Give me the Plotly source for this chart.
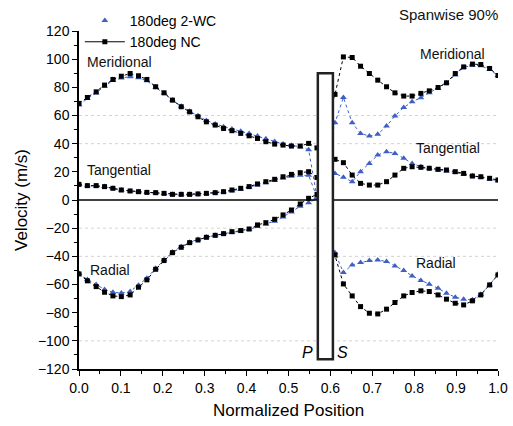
import plotly.graph_objects as go

# Pressure side (left of blade) normalized positions
x_ps = [0.0, 0.020, 0.041, 0.061, 0.081, 0.101, 0.122, 0.142, 0.162, 0.183,
        0.203, 0.223, 0.244, 0.264, 0.284, 0.304, 0.325, 0.345, 0.365, 0.386,
        0.406, 0.426, 0.446, 0.467, 0.487, 0.507, 0.528, 0.548, 0.568]
# Suction side (right of blade) normalized positions
x_ss = [0.611, 0.631, 0.652, 0.672, 0.693, 0.713, 0.734, 0.754, 0.775, 0.795,
        0.816, 0.836, 0.857, 0.877, 0.898, 0.918, 0.939, 0.959, 0.980, 1.0]

# 180deg NC
nc_mer_ps = [68.6, 72.8, 76.8, 81.6, 85.6, 87.9, 89.8, 88.2, 85.6, 80.4,
             76.1, 70.9, 66.2, 62.6, 59.1, 55.5, 53.2, 50.8, 49.2, 47.3,
             45.6, 43.7, 41.4, 39.7, 39.0, 38.3, 38.3, 40.2, 37.0]
nc_mer_ss = [75.0, 101.6, 101.2, 95.0, 89.8, 85.1, 80.4, 76.1, 73.8, 73.8,
             75.7, 77.5, 79.9, 83.2, 89.8, 94.5, 96.5, 96.2, 93.4, 88.4]
nc_tan_ps = [11.1, 10.2, 10.2, 9.5, 8.3, 7.1, 6.4, 5.9, 5.4, 5.2,
             4.7, 4.0, 4.0, 4.0, 4.3, 4.7, 5.2, 5.9, 7.1, 8.3,
             9.5, 11.4, 13.0, 14.7, 16.5, 18.2, 19.4, 20.1, 16.0]
nc_tan_ss = [28.9, 26.5, 17.7, 11.8, 10.6, 10.6, 13.0, 17.7, 22.5, 23.6,
             23.2, 22.5, 21.8, 21.3, 20.1, 18.9, 17.0, 16.5, 15.4, 14.2]
nc_rad_ps = [-52.5, -57.4, -61.5, -65.5, -68.1, -68.6, -67.4, -61.9, -56.7, -49.2,
             -43.0, -37.4, -33.6, -30.3, -28.4, -26.5, -25.1, -23.9, -22.5, -21.7,
             -20.6, -17.7, -16.1, -13.7, -10.6, -7.1, -2.8, 1.2, 4.0]
nc_rad_ss = [-39.0, -59.6, -68.1, -75.7, -80.4, -80.9, -77.5, -72.8, -68.1, -65.7,
             -64.5, -65.0, -67.4, -70.4, -73.3, -74.5, -71.6, -67.4, -60.3, -53.2]

# 180deg 2-WC
wc_mer_ps = [67.5, 72.0, 76.0, 80.8, 84.8, 86.6, 87.6, 86.8, 84.6, 80.0,
             76.0, 71.0, 66.5, 63.0, 59.8, 56.5, 54.0, 52.0, 50.5, 48.8,
             47.2, 45.4, 43.5, 41.6, 39.8, 38.8, 37.8, 35.7, 2.0]
wc_mer_ss = [54.8, 72.8, 54.8, 47.3, 45.4, 46.6, 52.5, 59.6, 65.7, 69.7,
             72.6, 76.1, 79.2, 83.2, 88.7, 94.1, 95.7, 95.3, 92.7, 88.4]
wc_tan_ps = [11.1, 10.2, 9.9, 9.5, 8.3, 7.1, 6.4, 5.9, 5.4, 5.2,
             4.7, 4.0, 4.0, 4.0, 4.3, 4.7, 5.2, 5.9, 6.6, 7.6,
             9.0, 10.6, 12.3, 14.0, 15.6, 16.8, 17.5, 17.5, 2.0]
wc_tan_ss = [18.9, 16.1, 13.0, 20.1, 26.0, 31.9, 34.3, 33.1, 29.6, 26.0,
             23.6, 22.5, 21.3, 20.6, 19.6, 18.2, 17.2, 16.1, 14.9, 13.7]
wc_rad_ps = [-52.0, -56.5, -60.0, -63.5, -65.5, -66.0, -65.0, -60.5, -55.5, -48.5,
             -42.5, -37.0, -33.0, -30.0, -28.0, -26.3, -25.0, -24.0, -23.0, -22.0,
             -21.0, -18.8, -17.2, -15.0, -12.0, -8.5, -4.5, -1.9, 1.0]
wc_rad_ss = [-37.4, -51.5, -46.1, -44.4, -43.0, -42.6, -43.7, -46.8, -50.1, -53.9,
             -57.2, -59.8, -62.7, -66.2, -69.0, -70.4, -70.9, -66.9, -60.3, -52.5]

x_ticks = [0.0, 0.1, 0.2, 0.3, 0.4, 0.5, 0.6, 0.7, 0.8, 0.9, 1.0]
y_ticks = [-120, -100, -80, -60, -40, -20, 0, 20, 40, 60, 80, 100, 120]
grid_levels = [60, 40, -20, -40, -100]

BLUE = "#3f5fc4"
FONT = "Liberation Sans, Arial, sans-serif"

fig = go.Figure()

x_all = x_ps + x_ss
for ps, ss in [(wc_mer_ps, wc_mer_ss), (wc_tan_ps, wc_tan_ss), (wc_rad_ps, wc_rad_ss)]:
    fig.add_trace(go.Scatter(x=x_all, y=ps + ss, mode="lines+markers",
                             line=dict(color=BLUE, width=1, dash="dot"),
                             marker=dict(symbol="triangle-up", size=6, color=BLUE),
                             showlegend=False))
for ps, ss in [(nc_mer_ps, nc_mer_ss), (nc_tan_ps, nc_tan_ss), (nc_rad_ps, nc_rad_ss)]:
    fig.add_trace(go.Scatter(x=x_all, y=ps + ss, mode="lines+markers",
                             line=dict(color="black", width=1, dash="dot"),
                             marker=dict(symbol="square", size=5, color="black"),
                             showlegend=False))

# legend entries
fig.add_trace(go.Scatter(x=[None], y=[None], mode="markers", name="180deg 2-WC",
                         marker=dict(symbol="triangle-up", size=6, color=BLUE)))
fig.add_trace(go.Scatter(x=[None], y=[None], mode="lines+markers", name="180deg NC",
                         line=dict(color="black", width=1),
                         marker=dict(symbol="square", size=5, color="black")))

# dotted grid at selected levels
for g in grid_levels:
    fig.add_shape(type="line", x0=0, x1=1, y0=g, y1=g, xref="x", yref="y",
                  line=dict(color="#d2d2d2", width=1, dash="dot"), layer="below")
# zero line
fig.add_shape(type="line", x0=0, x1=1, y0=0, y1=0, xref="x", yref="y",
              line=dict(color="black", width=1.5), layer="above")
# blade rectangle
fig.add_shape(type="rect", x0=0.570, x1=0.606, y0=-113, y1=90, xref="x", yref="y",
              line=dict(color="#222222", width=2.5), fillcolor="white", layer="above")

ann = dict(showarrow=False, font=dict(family=FONT, size=14, color="#111111"),
           xref="x", yref="y")
fig.add_annotation(x=0.014, y=98, text="Meridional", xanchor="left", **ann)
fig.add_annotation(x=0.014, y=21, text="Tangential", xanchor="left", **ann)
fig.add_annotation(x=0.022, y=-50, text="Radial", xanchor="left", **ann)
fig.add_annotation(x=0.808, y=103.5, text="Meridional", xanchor="left", **ann)
fig.add_annotation(x=0.800, y=37, text="Tangential", xanchor="left", **ann)
fig.add_annotation(x=0.800, y=-45, text="Radial", xanchor="left", **ann)
fig.add_annotation(x=0.545, y=-108, text="<i>P</i>", xanchor="center",
                   showarrow=False, font=dict(family=FONT, size=16, color="black"),
                   xref="x", yref="y")
fig.add_annotation(x=0.63, y=-108, text="<i>S</i>", xanchor="center",
                   showarrow=False, font=dict(family=FONT, size=16, color="black"),
                   xref="x", yref="y")
fig.add_annotation(x=1.005, y=1.0475, text="Spanwise 90%", xanchor="right", yanchor="middle",
                   showarrow=False, font=dict(family=FONT, size=15, color="#111111"),
                   xref="paper", yref="paper")

fig.update_layout(
    width=513, height=426,
    margin=dict(l=79, r=15, t=31, b=57, autoexpand=False),
    paper_bgcolor="white", plot_bgcolor="white",
    font=dict(family=FONT, size=14, color="black"),
    legend=dict(x=0.002, y=1.077, xanchor="left", yanchor="top",
                bgcolor="rgba(0,0,0,0)", font=dict(size=14),
                tracegroupgap=0, itemwidth=40),
    xaxis=dict(range=[0, 1], tickvals=x_ticks, tickformat=".1f",
               ticks="outside", ticklen=5, tickwidth=1.2, tickcolor="black",
               minor=dict(dtick=0.05, ticks="outside", ticklen=3, tickcolor="black"),
               showline=True, linecolor="black", linewidth=1.5,
               showgrid=False, zeroline=False,
               title=dict(text="Normalized Position", font=dict(size=17), standoff=10),
               tickfont=dict(size=14)),
    yaxis=dict(range=[-120, 120], tickvals=y_ticks,
               ticks="outside", ticklen=5, tickwidth=1.2, tickcolor="black",
               minor=dict(dtick=10, ticks="outside", ticklen=3, tickcolor="black"),
               showline=True, linecolor="black", linewidth=1.5,
               showgrid=False, zeroline=False,
               title=dict(text="Velocity (m/s)", font=dict(size=17), standoff=6),
               tickfont=dict(size=14)),
)

fig.write_html("out.html")
